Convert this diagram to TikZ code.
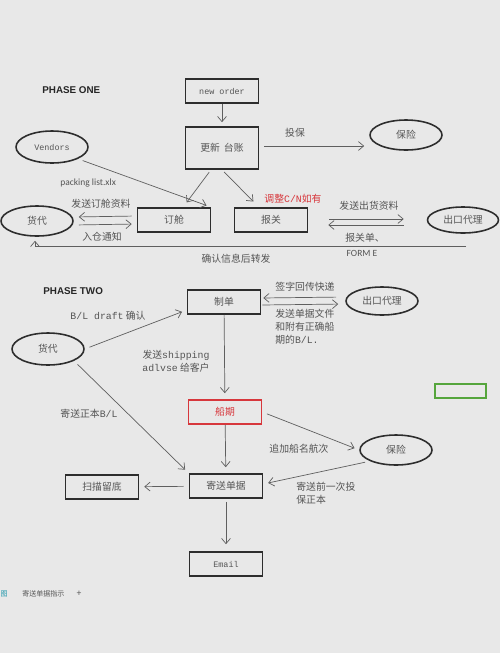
\documentclass[tikz,border=0pt]{standalone}
\usepackage{fontspec}
\setmainfont{Noto Sans CJK SC}
\newfontfamily\monofont{Liberation Mono}
\newfontfamily\calfont{Carlito}
\newfontfamily\headfont{Liberation Sans}
\usetikzlibrary{shapes.geometric,arrows.meta}

\definecolor{bgcol}{RGB}{232,232,232}
\definecolor{inkcol}{RGB}{85,85,85}
\definecolor{linecol}{RGB}{45,45,45}
\definecolor{arrcol}{RGB}{95,95,95}
\definecolor{redcol}{RGB}{215,55,60}
\definecolor{greencol}{RGB}{85,165,60}
\definecolor{tabcol}{RGB}{30,150,170}

\tikzset{
  box/.style={draw=linecol, line width=0.9pt, minimum width=1.46cm, minimum height=0.48cm,
    inner sep=0pt, text=inkcol, font=\fontsize{5.6}{6.5}\selectfont},
  oval/.style={ellipse, draw=linecol, line width=0.9pt, minimum width=1.44cm, minimum height=0.6cm,
    inner sep=0pt, text=inkcol, font=\fontsize{5.6}{6.5}\selectfont},
  mono/.style={font=\monofont\fontsize{4.8}{6}\selectfont},
  calib/.style={font=\calfont\fontsize{5.4}{6.5}\selectfont},
  lbl/.style={text=inkcol, inner sep=0pt, font=\fontsize{5.6}{7.4}\selectfont},
  heading/.style={anchor=west, inner sep=0pt, text=black!85, font=\headfont\bfseries\fontsize{5.6}{6.5}\selectfont},
  arr/.style={draw=arrcol, line width=0.4pt, -{Straight Barb[length=3pt,width=5pt]},
    shorten <=0.1cm, shorten >=0.1cm}
}

\begin{document}
\begin{tikzpicture}[x=0.02cm, y=-0.02cm]

    % Background of the sheet
    \fill[bgcol] (0,0) rectangle (500,653);

    % PHASE ONE
    \node[heading] (p1) at (42,90) {PHASE ONE};

    \node[box, mono] (neworder) at (222,91) {new order};
    \node[box, minimum height=0.84cm] (ledger) at (222,148) {更新\hspace{0.08cm}台账};
    \node[oval] (insure1) at (406,135) {保险};
    \node[oval, mono, minimum height=0.64cm] (vendors) at (52,147) {Vendors};
    \node[oval] (fwd1) at (37,221) {货代};
    \node[box] (booking) at (174,220) {订舱};
    \node[box] (customs) at (271,220) {报关};
    \node[oval, minimum width=1.42cm, minimum height=0.52cm] (export1) at (463,220) {出口代理};

    % Labels of phase one
    \node[lbl] (lInsure) at (295,133) {投保};
    \node[lbl, calib, anchor=west] (lPacking) at (60,183) {packing list.xlx};
    \node[lbl] (lSendBook) at (101,204) {发送订舱资料};
    \node[lbl] (lWarehouse) at (102,237) {入仓通知};
    \node[lbl, text=redcol] (lAdjust) at (293,199) {调整{\monofont C/N}如有};
    \node[lbl] (lSendGoods) at (369,206) {发送出货资料};
    \node[lbl] (lDecl) at (365,238) {报关单、};
    \node[lbl, calib] (lForm) at (362,253) {FORM E};
    \node[lbl] (lConfirm) at (236,259) {确认信息后转发};

    % Arrows of phase one
    \draw[arr, shorten <=0pt, shorten >=0.08cm] (neworder) -- (ledger);
    \draw[arr] ([yshift=0.04cm]ledger.east) -- ([yshift=0.04cm]ledger.east -| insure1.west);
    \draw[arr] (vendors.south east) -- (booking.north east);
    \draw[arr, shorten <=0.06cm, shorten >=0.12cm] ([xshift=-0.22cm]ledger.south) -- ([xshift=0.18cm]booking.north);
    \draw[arr, shorten <=0.06cm, shorten >=0.16cm] (ledger.south) -- ([xshift=-0.24cm]customs.north);
    \draw[arr] ([yshift=0.08cm]booking.west) -- ([yshift=0.08cm]fwd1.east);
    \draw[arr] ([yshift=-0.08cm]fwd1.east) -- ([yshift=-0.08cm]booking.west);
    \draw[arr, shorten <=0.42cm, shorten >=0.46cm] ([yshift=0.02cm]customs.east) -- ([yshift=0.02cm]export1.west);
    \draw[arr, shorten <=0.46cm, shorten >=0.4cm] ([yshift=-0.1cm]export1.west) -- ([yshift=-0.1cm]customs.east);

    % Feedback line back to the forwarder
    \coordinate (fbEnd) at (466,246);
    \draw[arr, shorten <=0pt, shorten >=0.08cm] (fbEnd) -- ([xshift=-0.04cm]fbEnd -| fwd1.south) -- ([xshift=-0.04cm]fwd1.south);

    % PHASE TWO
    \node[heading] (p2) at (43,291) {PHASE TWO};

    \node[box] (billing) at (224,302) {制单};
    \node[oval, minimum height=0.56cm] (export2) at (382,301) {出口代理};
    \node[oval, minimum height=0.64cm] (fwd2) at (48,349) {货代};
    \node[box, draw=redcol, text=redcol] (shipdate) at (225,412) {船期};
    \node[oval] (insure2) at (396,450) {保险};
    \node[box] (senddocs) at (226,486) {寄送单据};
    \node[box] (scan) at (102,487) {扫描留底};
    \node[box, mono] (email) at (226,564) {Email};

    % Labels of phase two
    \node[lbl] (lSign) at (305,287) {签字回传快递};
    \node[lbl, anchor=north west, align=left] (lDocs) at (275,309) {发送单据文件\\和附有正确船\\期的{\monofont B/L.}};
    \node[lbl] (lDraft) at (108,316) {{\monofont B/L draft} 确认};
    \node[lbl, align=center] (lAdvise) at (176,361) {发送{\monofont shipping}\\{\monofont adlvse} 给客户};
    \node[lbl] (lOrig) at (89,414) {寄送正本{\monofont B/L}};
    \node[lbl] (lAddName) at (299,449) {追加船名航次};
    \node[lbl, anchor=north west, align=left] (lPrev) at (296,482) {寄送前一次投\\保正本};

    % Arrows of phase two
    \draw[arr, shorten <=0.02cm, shorten >=0.14cm] ([yshift=-0.06cm]billing.east) -- ([yshift=-0.06cm]export2.west);
    \draw[arr, shorten <=0.18cm, shorten >=0.04cm] ([yshift=0.08cm]export2.west) -- ([yshift=0.08cm]billing.east);
    \draw[arr] (fwd2.east) -- ([yshift=-0.16cm]billing.west);
    \draw[arr, shorten <=0pt, shorten >=0.12cm] (billing) -- (shipdate);
    \draw[arr, shorten <=0pt, shorten >=0.12cm] (shipdate) -- (senddocs);
    \draw[arr] (fwd2.south east) -- (senddocs.north west);
    \draw[arr] (shipdate.east) -- (insure2.west);
    \draw[arr] (insure2.south west) -- ([yshift=0.04cm]senddocs.east);
    \draw[arr] (senddocs) -- (scan);
    \draw[arr, shorten <=0.06cm, shorten >=0.14cm] (senddocs) -- (email);

    % Stray green cell
    \draw[greencol, line width=0.04cm] (435,384) rectangle (486,398);

    % Sheet tab at the bottom
    \node[lbl, text=tabcol, anchor=east, font=\fontsize{4}{5}\selectfont] (tabIcon) at (8,594) {图};
    \node[lbl, anchor=west, font=\fontsize{4}{5}\selectfont] (tabName) at (22,594) {寄送单据指示};
    \node[lbl, font=\fontsize{5}{6}\selectfont] (tabPlus) at (79,594) {+};

\end{tikzpicture}
\end{document}
